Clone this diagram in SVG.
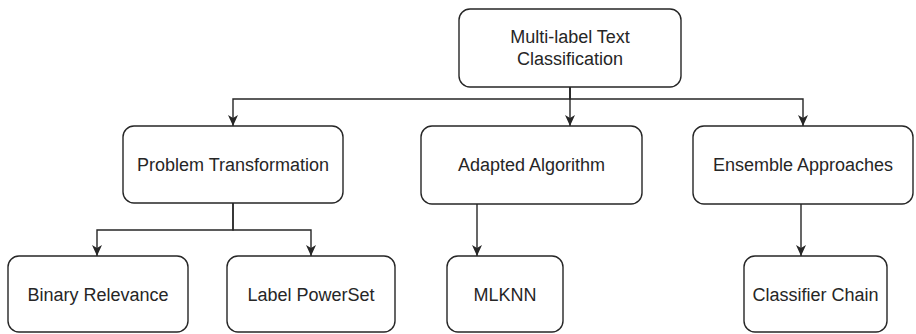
<svg xmlns="http://www.w3.org/2000/svg" width="916" height="334" viewBox="0 0 916 334">
  <style>
    .box { fill: #ffffff; stroke: #262626; stroke-width: 1.4; }
    .lbl { font-family: "Liberation Sans", Arial, sans-serif; font-size: 18px; fill: #262626; text-anchor: middle; }
    .edge { fill: none; stroke: #262626; stroke-width: 1.4; marker-end: url(#arrow); }
  </style>
  <defs>
    <marker id="arrow" markerUnits="userSpaceOnUse" markerWidth="12" markerHeight="12" viewBox="0 0 12 12" refX="11" refY="6" orient="auto">
      <path d="M0,1 L11,6 L0,11 L3,6 Z" fill="#262626"/>
    </marker>
  </defs>
  <rect width="916" height="334" fill="#ffffff"/>

  <!-- connectors -->
  <g id="connectors">
    <path class="edge" d="M570,87 V99 H233 V126"/>
    <path class="edge" d="M570,87 V126"/>
    <path class="edge" d="M570,87 V99 H803 V126"/>
    <path class="edge" d="M233,203 V230 H97 V256"/>
    <path class="edge" d="M233,203 V230 H311 V256"/>
    <path class="edge" d="M477,204 V256"/>
    <path class="edge" d="M801,204 V256"/>
  </g>

  <g id="root">
    <rect class="box" x="459" y="9" width="222" height="78" rx="11"/>
    <text class="lbl" x="570" y="43">Multi-label Text</text>
    <text class="lbl" x="570" y="65">Classification</text>
  </g>

  <g id="problem-transformation">
    <rect class="box" x="123" y="126" width="220" height="77" rx="11"/>
    <text class="lbl" x="233" y="171">Problem Transformation</text>
  </g>

  <g id="adapted-algorithm">
    <rect class="box" x="421" y="126" width="221" height="78" rx="11"/>
    <text class="lbl" x="531.5" y="171">Adapted Algorithm</text>
  </g>

  <g id="ensemble-approaches">
    <rect class="box" x="693" y="126" width="220" height="78" rx="11"/>
    <text class="lbl" x="803" y="171">Ensemble Approaches</text>
  </g>

  <g id="binary-relevance">
    <rect class="box" x="8" y="256" width="180" height="76" rx="11"/>
    <text class="lbl" x="98" y="301">Binary Relevance</text>
  </g>

  <g id="label-powerset">
    <rect class="box" x="227" y="256" width="168" height="76" rx="11"/>
    <text class="lbl" x="311" y="301">Label PowerSet</text>
  </g>

  <g id="mlknn">
    <rect class="box" x="447" y="256" width="116" height="76" rx="11"/>
    <text class="lbl" x="505" y="301">MLKNN</text>
  </g>

  <g id="classifier-chain">
    <rect class="box" x="744" y="256" width="143" height="76" rx="11"/>
    <text class="lbl" x="815.5" y="301">Classifier Chain</text>
  </g>
</svg>
